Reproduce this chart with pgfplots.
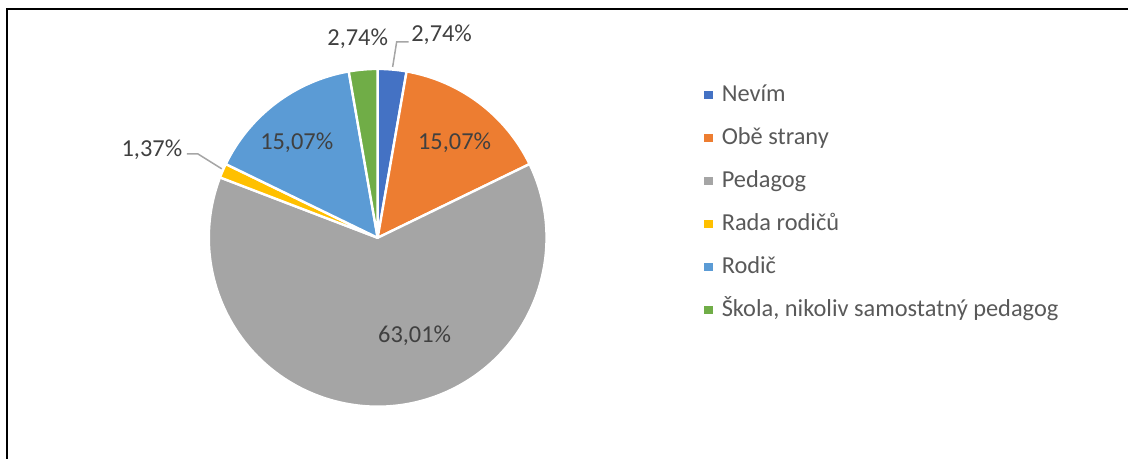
\documentclass[border=0pt]{standalone}
\usepackage{pgfplots}
\pgfplotsset{compat=1.18}
\usepackage{pgfplotstable}
\usepackage{fontspec}
\setmainfont{Carlito}
\definecolor{cA}{HTML}{4472C4}
\definecolor{cB}{HTML}{ED7D31}
\definecolor{cC}{HTML}{A5A5A5}
\definecolor{cD}{HTML}{FFC000}
\definecolor{cE}{HTML}{5B9BD5}
\definecolor{cF}{HTML}{70AD47}
\definecolor{lbl}{HTML}{404040}
\definecolor{leg}{HTML}{595959}
\definecolor{ldr}{HTML}{A6A6A6}
\pgfplotstableread{
id value
1 2.74
2 15.07
3 63.01
4 1.37
5 15.07
6 2.74
}\piedata
\newcommand\slice[3]{\fill[#3, draw=white, line width=1.2pt, line join=round] (axis cs:378,221) -- ++(#1:84.5pt) arc[start angle=#1, end angle=#2, radius=84.5pt] -- cycle;}
\begin{document}
\begin{tikzpicture}
\pgfplotstablegetelem{0}{value}\of\piedata \let\vA\pgfplotsretval
\pgfplotstablegetelem{1}{value}\of\piedata \let\vB\pgfplotsretval
\pgfplotstablegetelem{2}{value}\of\piedata \let\vC\pgfplotsretval
\pgfplotstablegetelem{3}{value}\of\piedata \let\vD\pgfplotsretval
\pgfplotstablegetelem{4}{value}\of\piedata \let\vE\pgfplotsretval
\pgfplotstablegetelem{5}{value}\of\piedata \let\vF\pgfplotsretval
\pgfmathsetmacro\aO{90}
\pgfmathsetmacro\aA{\aO-3.6*\vA}
\pgfmathsetmacro\aB{\aA-3.6*\vB}
\pgfmathsetmacro\aC{\aB-3.6*\vC}
\pgfmathsetmacro\aD{\aC-3.6*\vD}
\pgfmathsetmacro\aE{\aD-3.6*\vE}
\pgfmathsetmacro\aF{\aE-3.6*\vF}
\begin{axis}[
  x=0.5pt, y=0.5pt, xmin=0, xmax=1129, ymin=0, ymax=459,
  hide axis, clip=false,
  legend image code/.code={\path[#1, draw=none] (0pt,-2.1pt) rectangle (4.2pt,2.1pt);},
  legend cell align=left,
  legend style={draw=none, fill=none, at={(axis cs:705,375)}, anchor=north west,
    inner sep=0pt, outer sep=0pt, font=\fontsize{12.2}{14}\selectfont, text=leg,
    row sep=10.2pt, nodes={inner sep=0pt, text height=8.8pt, text depth=2.5pt},
    /tikz/every odd column/.append style={column sep=4.5pt}},
]
\path (axis cs:0,0) rectangle (axis cs:1129,459);
\draw[black, line width=1pt] (axis cs:7,0) -- (axis cs:7,450) -- (axis cs:1129,450);
\slice{\aO}{\aA}{cA}
\slice{\aA}{\aB}{cB}
\slice{\aB}{\aC}{cC}
\slice{\aC}{\aD}{cD}
\slice{\aD}{\aE}{cE}
\slice{\aE}{\aF}{cF}
\addlegendimage{fill=cA}\addlegendentry{Nevím}
\addlegendimage{fill=cB}\addlegendentry{Obě strany}
\addlegendimage{fill=cC}\addlegendentry{Pedagog}
\addlegendimage{fill=cD}\addlegendentry{Rada rodičů}
\addlegendimage{fill=cE}\addlegendentry{Rodič}
\addlegendimage{fill=cF}\addlegendentry{Škola, nikoliv samostatný pedagog}
\draw[ldr, line width=0.75pt] (axis cs:393,392) -- (axis cs:397,417) -- (axis cs:409,417);
\draw[ldr, line width=0.75pt] (axis cs:222,290) -- (axis cs:198,305) -- (axis cs:187,305);
\begin{scope}[every node/.style={font=\fontsize{12.2}{14}\selectfont, text=lbl, inner sep=0pt}]
\node at (axis cs:442,424) {2,74\%};
\node at (axis cs:358,420) {2,74\%};
\node at (axis cs:455,316) {15,07\%};
\node at (axis cs:297,316) {15,07\%};
\node at (axis cs:415,123) {63,01\%};
\node at (axis cs:152,309) {1,37\%};
\end{scope}
\end{axis}
\end{tikzpicture}
\end{document}
